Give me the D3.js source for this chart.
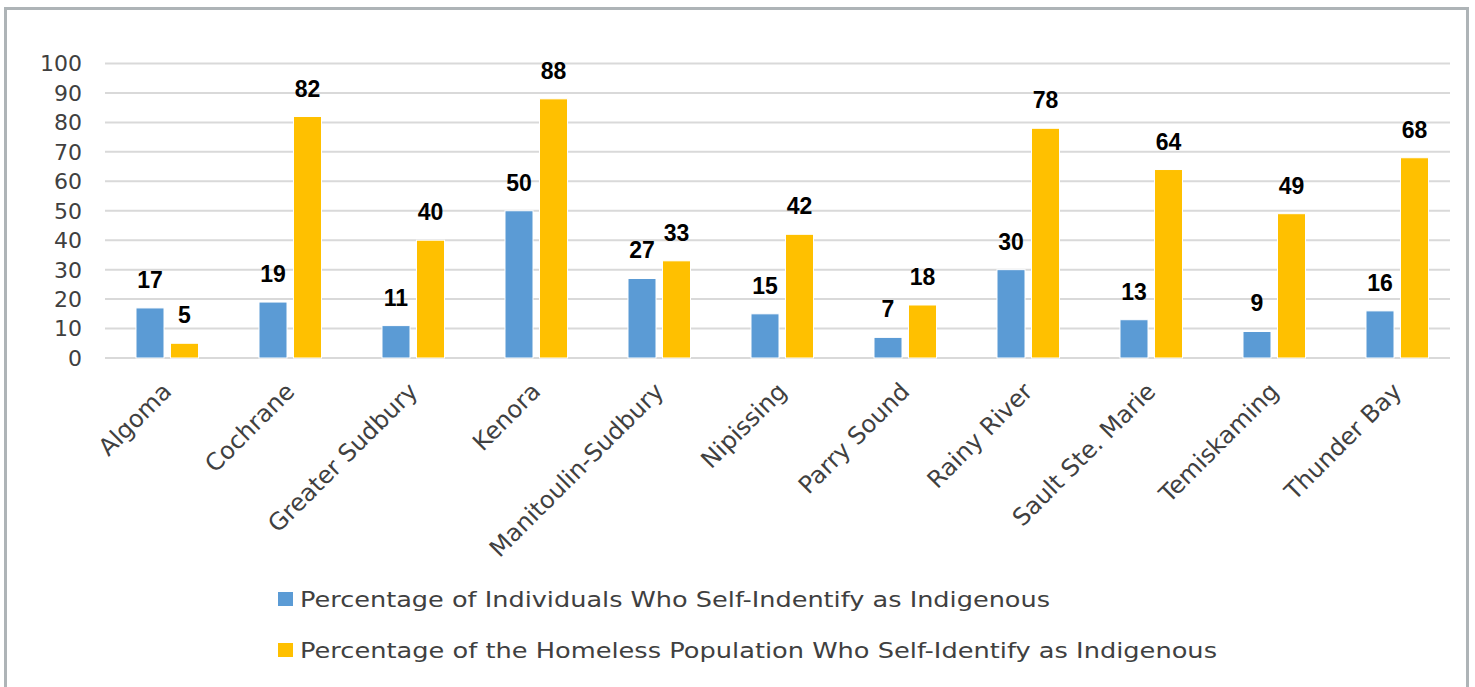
<!DOCTYPE html>
<html><head><meta charset="utf-8">
<script src="https://cdn.jsdelivr.net/npm/d3@7"></script>
<style>
html,body{margin:0;padding:0;background:#fff;}
svg{display:block;}
</style></head>
<body>
<svg id="chart" width="1475" height="687"></svg>
<script>
const categories = ["Algoma","Cochrane","Greater Sudbury","Kenora","Manitoulin-Sudbury","Nipissing","Parry Sound","Rainy River","Sault Ste. Marie","Temiskaming","Thunder Bay"];
const seriesIndividuals = [17,19,11,50,27,15,7,30,13,9,16];
const seriesHomeless = [5,82,40,88,33,42,18,78,64,49,68];
const seriesNames = ["Percentage of Individuals Who Self-Indentify as Indigenous","Percentage of the Homeless Population Who Self-Identify as Indigenous"];
const yTicks = [0,10,20,30,40,50,60,70,80,90,100];
const colors = ["#5B9BD5","#FFC000"];

const svg = d3.select("#chart");
const font = "'DejaVu Sans', sans-serif";

// border
svg.append("rect").attr("x",5.5).attr("y",8.5).attr("width",1462).attr("height",700)
  .attr("fill","none").attr("stroke","#AEB4B7").attr("stroke-width",3);

const x = d3.scaleBand().domain(categories).range([105.5,1458.5]);
const y = d3.scaleLinear().domain([0,100]).range([358,63.5]);

// gridlines
svg.append("g").selectAll("line").data(yTicks).join("line")
  .attr("x1",105).attr("x2",1450)
  .attr("y1",d=>y(d)).attr("y2",d=>y(d))
  .attr("stroke","#D9D9D9").attr("stroke-width",2);

// y tick labels
svg.append("g").selectAll("text").data(yTicks).join("text")
  .attr("x",82).attr("y",d=>y(d)).attr("dy","0.36em")
  .attr("text-anchor","end").attr("font-family",font).attr("font-size",22)
  .attr("fill","#404040").text(d=>d);

const bw = 28;
const series = [seriesIndividuals, seriesHomeless];
const offsets = [-31, 3.5];
series.forEach((vals,si)=>{
  const g = svg.append("g");
  g.selectAll("rect").data(vals).join("rect")
    .attr("x",(d,i)=>x(categories[i])+x.bandwidth()/2+offsets[si])
    .attr("y",d=>y(d)).attr("width",bw).attr("height",d=>y(0)-y(d))
    .attr("fill",colors[si]).attr("stroke","#fff").attr("stroke-width",1);
  g.selectAll("text").data(vals).join("text")
    .attr("x",(d,i)=>x(categories[i])+x.bandwidth()/2+offsets[si]+bw/2)
    .attr("y",d=>y(d)-20).attr("text-anchor","middle")
    .attr("font-family","'Liberation Sans', Arial, sans-serif").attr("font-weight","bold")
    .attr("font-size",23).attr("fill","#000").text(d=>d);
});

// x labels
svg.append("g").selectAll("text").data(categories).join("text")
  .attr("transform",d=>`translate(${x(d)+x.bandwidth()/2},${387}) rotate(-45)`)
  .attr("dy","0.35em")
  .attr("text-anchor","end").attr("font-family",font).attr("font-size",24)
  .attr("fill","#404040").text(d=>d);

// legend
const legY = [599, 650];
const legLen = [750, 917];
seriesNames.forEach((n,i)=>{
  svg.append("rect").attr("x",278).attr("y",legY[i]-7).attr("width",15).attr("height",14).attr("fill",colors[i]);
  svg.append("text").attr("x",300).attr("y",legY[i]).attr("dy","0.36em")
    .attr("font-family",font).attr("font-size",22).attr("fill","#404040")
    .attr("textLength",legLen[i]).attr("lengthAdjust","spacingAndGlyphs").text(n);
});
</script>
</body></html>
